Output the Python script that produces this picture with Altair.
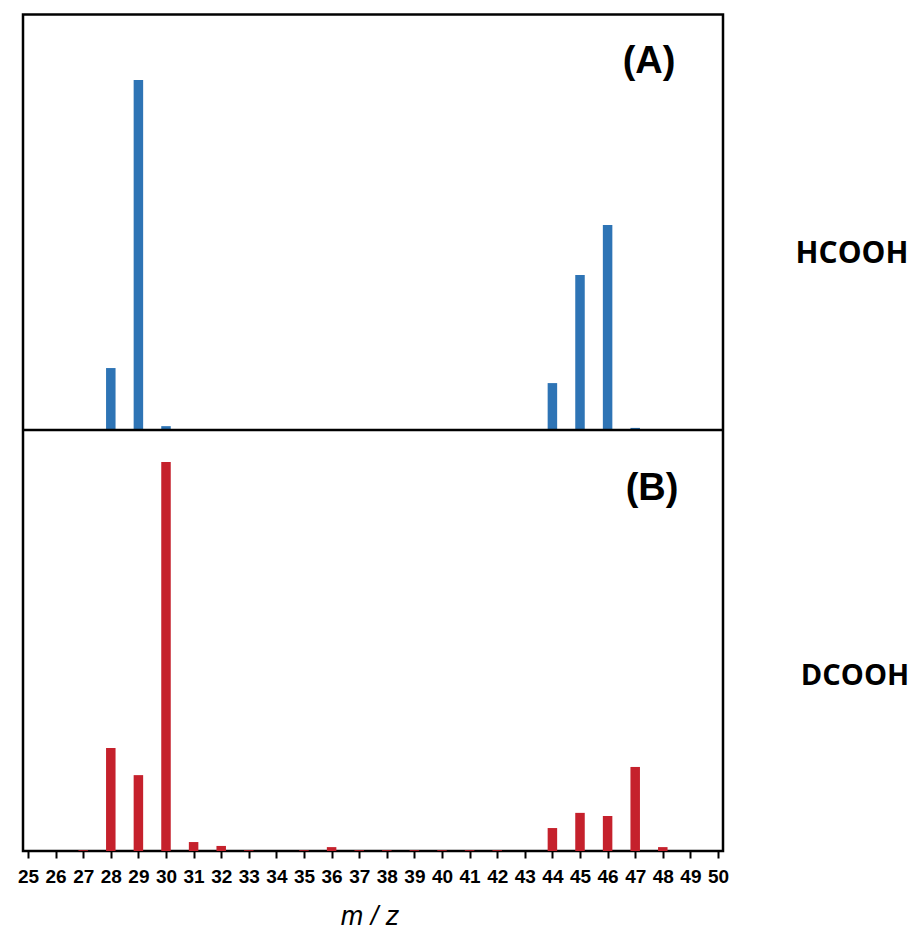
import altair as alt
import pandas as pd

# Panel A: HCOOH
mz_a = [28, 29, 30, 44, 45, 46, 47]
int_a = [17.7, 100.0, 1.1, 13.4, 44.3, 58.6, 0.6]

# Panel B: DCOOH
mz_b = [27, 28, 29, 30, 31, 32, 33, 35, 36, 37, 38, 39, 40, 41, 42, 44, 45, 46, 47, 48]
int_b = [0.2, 26.5, 19.5, 100.0, 2.3, 1.3, 0.2, 0.2, 1.0, 0.2, 0.2, 0.2, 0.2, 0.2, 0.2, 5.9, 9.8, 9.0, 21.6, 1.0]

ticks = list(range(25, 51))

df_a = pd.DataFrame({"mz": mz_a, "ia": int_a})
df_b = pd.DataFrame({"mz": mz_b, "ib": int_b})

W, H = 700, 836.5
HA = 415.5  # top panel height

xscale = alt.Scale(domain=[25, 50], nice=False, zero=False)
xaxis = alt.Axis(values=ticks, format="d", domain=False, grid=False,
                 tickSize=7, tickWidth=2, tickColor="black",
                 labelFont="Liberation Sans", labelFontWeight="bold", labelFontSize=19,
                 labelColor="black", labelPadding=9, labelFlush=False, labelOverlap=False,
                 title=None)

bars_a = alt.Chart(df_a).mark_bar(size=9.5, color="#2E74B5").encode(
    x=alt.X("mz:Q", scale=xscale, axis=xaxis),
    y=alt.Y("ia:Q", scale=alt.Scale(domain=[0, 118.7], range=[HA, 0], nice=False), axis=None),
)
bars_b = alt.Chart(df_b).mark_bar(size=9.5, color="#C5212C").encode(
    x=alt.X("mz:Q", scale=xscale, axis=xaxis),
    y=alt.Y("ib:Q", scale=alt.Scale(domain=[0, 108.2], range=[H, HA], nice=False), axis=None),
)

divider = alt.Chart(pd.DataFrame({"d": [0]})).mark_rule(color="black", strokeWidth=2.5).encode(
    x=alt.value(0), x2=alt.value(W), y=alt.value(HA)
)

def label(txt, x, y, font, size):
    return alt.Chart(pd.DataFrame({"t": [txt]})).mark_text(
        font=font, fontWeight="bold", fontSize=size, align="center",
        baseline="alphabetic", color="black"
    ).encode(text="t:N", x=alt.value(x), y=alt.value(y))

lab_a = label("(A)", 626, 58.5, "Liberation Sans", 38)
lab_b = label("(B)", 629, 485.5, "Liberation Sans", 38)
side_a = label("HCOOH", 829, 248.5, "Open Sans", 30)
side_b = label("DCOOH", 832, 670.5, "Open Sans", 29)

xtitle = alt.Chart(pd.DataFrame({"t": ["m / z"]})).mark_text(
    font="Liberation Sans", fontStyle="italic", fontSize=27, align="center",
    baseline="alphabetic", color="black"
).encode(text="t:N", x=alt.value(347), y=alt.value(910))

chart = alt.layer(bars_a, bars_b, divider, lab_a, lab_b, side_a, side_b, xtitle).resolve_scale(
    y="independent"
).properties(
    width=W, height=H,
    autosize=alt.AutoSizeParams(type="none"),
    padding={"left": 15, "top": 6.5, "right": 190, "bottom": 80},
).configure(background="white").configure_view(stroke="black", strokeWidth=2.5)

chart.save("out.html", embed_options={"renderer": "svg", "actions": False})
